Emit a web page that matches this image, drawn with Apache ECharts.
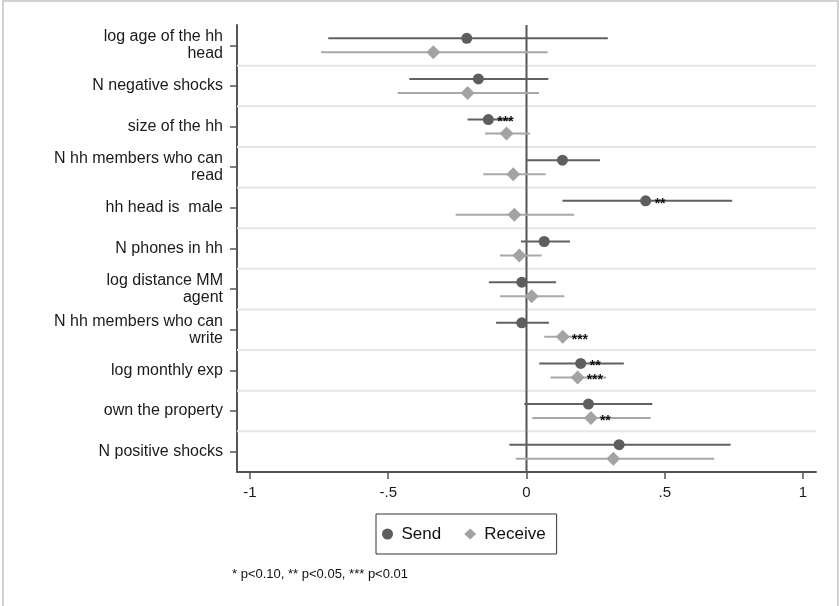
<!DOCTYPE html>
<html>
<head>
<meta charset="utf-8">
<script src="https://cdn.jsdelivr.net/npm/echarts@6/dist/echarts.min.js"></script>
<style>
  html, body { margin: 0; padding: 0; background: #fff; }
  #chart { width: 839px; height: 606px; }
</style>
</head>
<body>
<div id="chart"></div>
<script>
// covariates, top to bottom
const categories = [
  'log age of the hh\nhead',
  'N negative shocks',
  'size of the hh',
  'N hh members who can\nread',
  'hh head is  male',
  'N phones in hh',
  'log distance MM\nagent',
  'N hh members who can\nwrite',
  'log monthly exp',
  'own the property',
  'N positive shocks'
]

const sendCoef = [-0.216, -0.174, -0.138, 0.130, 0.431, 0.064, -0.017, -0.017, 0.196, 0.224, 0.335]
const sendLow = [-0.717, -0.424, -0.213, 0.000, 0.130, -0.020, -0.136, -0.110, 0.046, -0.008, -0.062]
const sendHigh = [0.294, 0.079, -0.053, 0.266, 0.744, 0.157, 0.107, 0.081, 0.352, 0.455, 0.738]
const sendStars = ['', '', '***', '', '**', '', '', '', '**', '', '']

const receiveCoef = [-0.337, -0.213, -0.072, -0.048, -0.044, -0.026, 0.019, 0.131, 0.185, 0.233, 0.314]
const receiveLow = [-0.743, -0.466, -0.150, -0.156, -0.256, -0.096, -0.096, 0.064, 0.087, 0.021, -0.039]
const receiveHigh = [0.077, 0.045, 0.013, 0.069, 0.172, 0.055, 0.137, 0.200, 0.288, 0.449, 0.679]
const receiveStars = ['', '', '', '', '', '', '', '***', '***', '**', '']

const xTicks = [-1, -0.5, 0, 0.5, 1]
const xMin = -1.047
const xMax = 1.047

const sendData = categories.map((c, i) => [sendCoef[i], sendLow[i], sendHigh[i], i])
const receiveData = categories.map((c, i) => [receiveCoef[i], receiveLow[i], receiveHigh[i], i])

function makeRender(offset, lineColor, markColor, shape, stars) {
  return function (params, api) {
    const cat = api.value(3)
    const p = api.coord([api.value(0), cat])
    const lo = api.coord([api.value(1), cat])
    const hi = api.coord([api.value(2), cat])
    const y = p[1] + offset
    const children = [
      {type: 'line', shape: {x1: lo[0], y1: y, x2: hi[0], y2: y},
        style: {stroke: lineColor, lineWidth: 2}}
    ]
    if (shape === 'circle') {
      children.push({type: 'circle', shape: {cx: p[0], cy: y, r: 5.5}, style: {fill: markColor}})
    } else {
      children.push({type: 'polygon',
        shape: {points: [[p[0] - 7, y], [p[0], y - 7], [p[0] + 7, y], [p[0], y + 7]]},
        style: {fill: markColor}})
    }
    const s = stars[params.dataIndex]
    if (s) {
      children.push({type: 'text', z2: 10, style: {
        text: s, x: p[0] + 9, y: y + 3, fontSize: 14, fontWeight: 'bold',
        fontFamily: 'Liberation Sans', fill: '#111', verticalAlign: 'middle'
      }})
    }
    return {type: 'group', children}
  }
}

// row separators and the zero line
function renderFrame(params, api) {
  const i = api.value(1)
  const c = api.coord([0, i])
  const band = api.size([0, 1])[1]
  const cs = params.coordSys
  const children = []
  if (i < categories.length - 1) {
    children.push({type: 'line', shape: {x1: cs.x, y1: c[1] + band / 2, x2: cs.x + cs.width, y2: c[1] + band / 2},
      style: {stroke: '#e6e6e6', lineWidth: 2}})
  }
  children.push({type: 'line', shape: {x1: c[0], y1: c[1] - band / 2, x2: c[0], y2: c[1] + band / 2},
    style: {stroke: '#555', lineWidth: 2}})
  return {type: 'group', children}
}

const chart = echarts.init(document.getElementById('chart'))
chart.setOption({
  animation: false,
  textStyle: {fontFamily: 'Liberation Sans'},
  grid: {left: 237, right: 23, top: 25, bottom: 134},
  xAxis: {
    type: 'value',
    min: xMin,
    max: xMax,
    splitLine: {show: false},
    axisLine: {show: true, onZero: false, lineStyle: {color: '#555', width: 2}},
    axisTick: {show: true, length: 7, customValues: xTicks, lineStyle: {color: '#555', width: 1.5}},
    axisLabel: {
      customValues: xTicks,
      color: '#1a1a1a',
      fontSize: 15,
      margin: 13,
      formatter: v => v === 0 ? '0' : String(v).replace('0.', '.')
    }
  },
  yAxis: {
    type: 'category',
    inverse: true,
    data: categories,
    axisLine: {show: true, onZero: false, lineStyle: {color: '#555', width: 2}},
    axisTick: {show: true, alignWithLabel: true, length: 7, lineStyle: {color: '#555', width: 1.5}},
    axisLabel: {color: '#1a1a1a', fontSize: 16, lineHeight: 17, margin: 14, align: 'right'},
    splitLine: {show: false}
  },
  legend: {
    left: 376,
    top: 514,
    orient: 'horizontal',
    padding: [10, 11, 10, 6],
    itemGap: 23,
    itemWidth: 12,
    itemHeight: 11,
    borderColor: '#333',
    borderWidth: 1,
    textStyle: {fontSize: 17, color: '#111', lineHeight: 20, padding: [0, 0, 0, 3]},
    data: [{name: 'Send', icon: 'circle'}, {name: 'Receive', icon: 'diamond'}]
  },
  graphic: [
    {type: 'rect', shape: {x: 3, y: 1, width: 835, height: 620},
      style: {fill: 'none', stroke: '#c4c4c4', lineWidth: 1.5}, silent: true},
    {type: 'text', left: 232, top: 568,
      style: {text: '* p<0.10, ** p<0.05, *** p<0.01', fontSize: 13, fill: '#111', fontFamily: 'Liberation Sans'}}
  ],
  series: [
    {
      name: 'frame',
      type: 'custom',
      z: 1,
      silent: true,
      renderItem: renderFrame,
      encode: {x: 0, y: 1},
      data: categories.map((c, i) => [0, i])
    },
    {
      name: 'Send',
      type: 'custom',
      z: 3,
      itemStyle: {color: '#5e5e5e'},
      renderItem: makeRender(-7, '#616161', '#5e5e5e', 'circle', sendStars),
      encode: {x: [0, 1, 2], y: 3},
      data: sendData
    },
    {
      name: 'Receive',
      type: 'custom',
      z: 2,
      itemStyle: {color: '#a3a3a3'},
      renderItem: makeRender(7, '#a8a8a8', '#a3a3a3', 'diamond', receiveStars),
      encode: {x: [0, 1, 2], y: 3},
      data: receiveData
    }
  ]
})
</script>
</body>
</html>
